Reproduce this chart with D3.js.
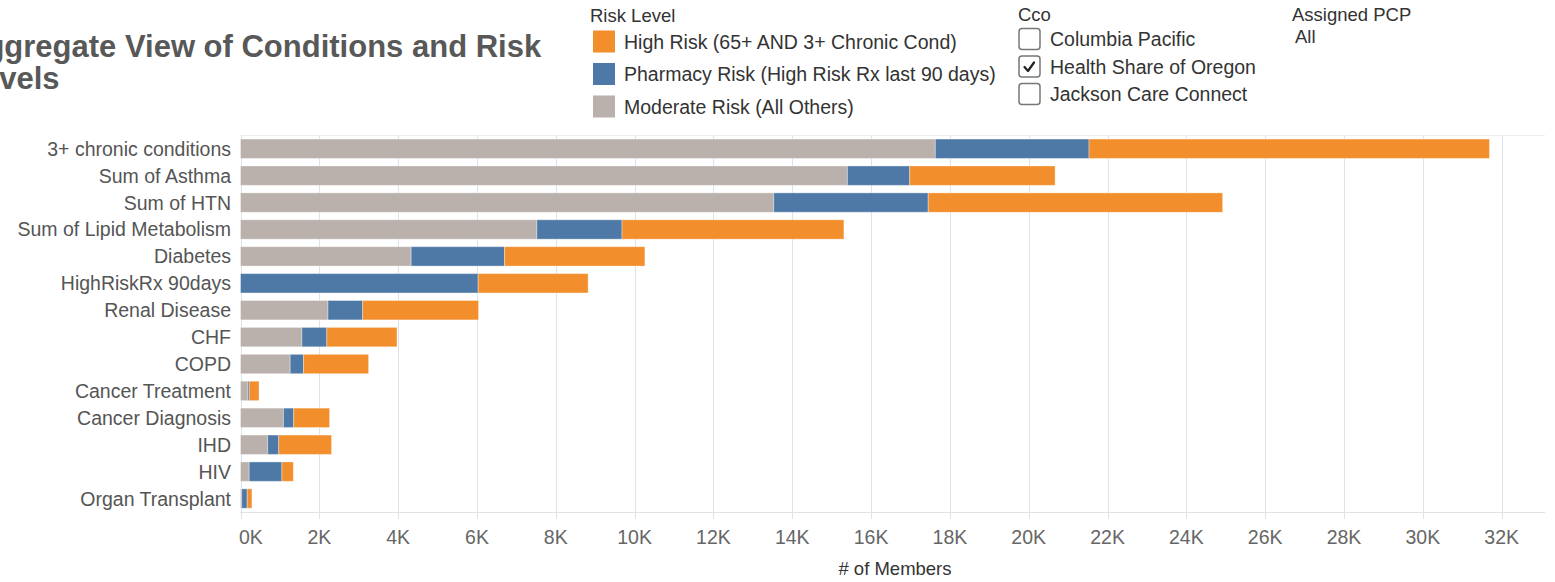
<!DOCTYPE html>
<html>
<head>
<meta charset="utf-8">
<script src="https://cdn.jsdelivr.net/npm/d3@7"></script>
<style>
  html, body { margin: 0; padding: 0; background: #fff; }
  svg { display: block; font-family: "Liberation Sans", Arial, sans-serif; }
</style>
</head>
<body>
<svg id="chart" width="1555" height="582"></svg>
<script>
// Conditions, top to bottom
const categories = [
  "3+ chronic conditions", "Sum of Asthma", "Sum of HTN", "Sum of Lipid Metabolism",
  "Diabetes", "HighRiskRx 90days", "Renal Disease", "CHF", "COPD",
  "Cancer Treatment", "Cancer Diagnosis", "IHD", "HIV", "Organ Transplant"
];
// Members per risk level (stacked left to right: moderate, pharmacy, high)
const moderateRisk = [17630, 15400, 13530, 7520, 4330, 0, 2220, 1560, 1260, 180, 1090, 690, 220, 30];
const pharmacyRisk = [3900, 1580, 3920, 2160, 2370, 6030, 880, 630, 340, 40, 260, 280, 830, 140];
const highRisk     = [10160, 3690, 7470, 5630, 3560, 2790, 2940, 1780, 1650, 250, 910, 1340, 290, 120];

const riskLevels = ["High Risk (65+ AND 3+ Chronic Cond)", "Pharmacy Risk (High Risk Rx last 90 days)", "Moderate Risk (All Others)"];
const riskColors = ["#F28E2B", "#4E79A7", "#BAB0AC"];
const xTicks = d3.range(0, 33000, 2000);
const ccoOptions = ["Columbia Pacific", "Health Share of Oregon", "Jackson Care Connect"];
const ccoChecked = [false, true, false];

const svg = d3.select("#chart");
const FS = 19.5;

// Title (wide dashboard title, clipped at the left edge)
const title = svg.append("text")
  .attr("font-size", 31).attr("font-weight", "bold").attr("fill", "#585858");
title.append("tspan").attr("x", -37).attr("y", 57).text("Aggregate View of Conditions and Risk");
title.append("tspan").attr("x", -37).attr("y", 89).text("Levels");

// Scales
const x = d3.scaleLinear().domain([0, 33100]).range([240.5, 1545]);
const y = d3.scaleBand().domain(categories).range([135.3, 512])
  .paddingInner(0.28).paddingOuter(0.14);

// Gridlines
svg.append("g").selectAll("line").data(xTicks).join("line")
  .attr("x1", d => Math.round(x(d)) + 0.5).attr("x2", d => Math.round(x(d)) + 0.5)
  .attr("y1", 135).attr("y2", 512)
  .attr("stroke", "#dbe3ec").attr("stroke-width", 1);

// top border
svg.append("line").attr("x1", 240).attr("x2", 1545).attr("y1", 135.5).attr("y2", 135.5)
  .attr("stroke", "#eeeeee");

// Stacked bars
const rows = categories.map((c, i) => ({
  cat: c, moderate: moderateRisk[i], pharmacy: pharmacyRisk[i], high: highRisk[i]
}));
const stack = d3.stack().keys(["moderate", "pharmacy", "high"]);
const series = stack(rows);
const keyColor = { moderate: riskColors[2], pharmacy: riskColors[1], high: riskColors[0] };

svg.append("g").selectAll("g").data(series).join("g")
  .attr("fill", s => keyColor[s.key])
  .selectAll("rect").data(s => s).join("rect")
  .attr("x", d => x(d[0]))
  .attr("y", d => y(d.data.cat))
  .attr("width", d => Math.max(0, x(d[1]) - x(d[0])))
  .attr("height", y.bandwidth())
  .attr("stroke", "rgba(255,255,255,0.35)").attr("stroke-width", 1);

// Category labels
svg.append("g").selectAll("text").data(categories).join("text")
  .attr("x", 231).attr("y", d => y(d) + y.bandwidth() / 2 + 7)
  .attr("text-anchor", "end").attr("font-size", FS).attr("fill", "#555")
  .text(d => d);

// X axis
const axisG = svg.append("g").attr("transform", "translate(0,512)");
axisG.append("line").attr("x1", 240).attr("x2", 1545).attr("y1", 0.5).attr("y2", 0.5)
  .attr("stroke", "#e3e3e3");
axisG.selectAll("line.tick").data(xTicks).join("line").attr("class", "tick")
  .attr("x1", d => Math.round(x(d)) + 0.5).attr("x2", d => Math.round(x(d)) + 0.5)
  .attr("y1", 0).attr("y2", 7).attr("stroke", "#e3e3e3");
axisG.selectAll("text").data(xTicks).join("text")
  .attr("x", d => d === 0 ? x(d) - 1.5 : x(d))
  .attr("y", 32)
  .attr("text-anchor", d => d === 0 ? "start" : "middle")
  .attr("font-size", FS).attr("fill", "#666")
  .text(d => d3.format("d")(d / 1000) + "K");

svg.append("text").attr("x", 895).attr("y", 575).attr("text-anchor", "middle")
  .attr("font-size", FS - 1).attr("fill", "#333").text("# of Members");

// Risk level legend
const leg = svg.append("g");
leg.append("text").attr("x", 590).attr("y", 22).attr("font-size", FS - 1).attr("fill", "#333").text("Risk Level");
riskLevels.forEach((r, i) => {
  const cy = 41.5 + i * 32.5;
  leg.append("rect").attr("x", 593).attr("y", cy - 11).attr("width", 22).attr("height", 22)
    .attr("fill", riskColors[i]);
  leg.append("text").attr("x", 624).attr("y", cy + 7).attr("font-size", FS).attr("fill", "#333").text(r);
});

// Cco filter
const cco = svg.append("g");
cco.append("text").attr("x", 1018).attr("y", 21).attr("font-size", FS - 1).attr("fill", "#333").text("Cco");
ccoOptions.forEach((o, i) => {
  const cy = 39 + i * 27.5;
  cco.append("rect").attr("x", 1019).attr("y", cy - 10.5).attr("width", 21).attr("height", 21)
    .attr("rx", 3).attr("fill", "#fff").attr("stroke", "#777").attr("stroke-width", 1.5);
  if (ccoChecked[i]) {
    cco.append("path")
      .attr("d", `M${1024.5},${cy + 0.5} L${1028},${cy + 4.5} L${1034},${cy - 4}`)
      .attr("fill", "none").attr("stroke", "#222").attr("stroke-width", 2.2)
      .attr("stroke-linecap", "round").attr("stroke-linejoin", "round");
  }
  cco.append("text").attr("x", 1050).attr("y", cy + 7).attr("font-size", FS).attr("fill", "#333").text(o);
});

// Assigned PCP filter
svg.append("text").attr("x", 1292).attr("y", 21).attr("font-size", FS - 1).attr("fill", "#333").text("Assigned PCP");
svg.append("text").attr("x", 1295).attr("y", 43).attr("font-size", FS - 1).attr("fill", "#333").text("All");
</script>
</body>
</html>
